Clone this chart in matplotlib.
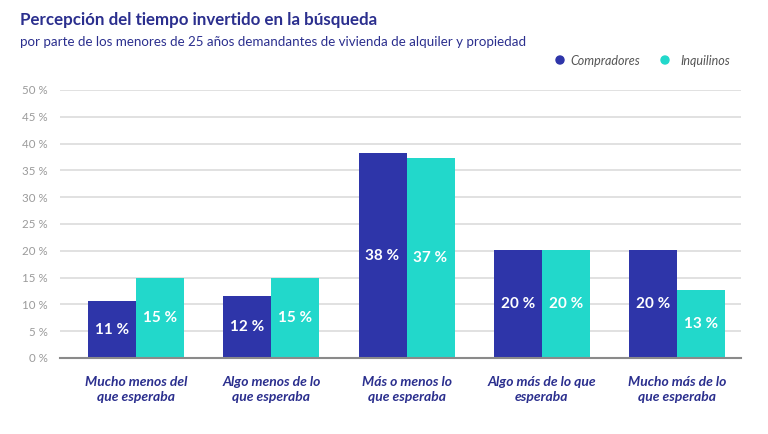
import matplotlib
matplotlib.use("Agg")
import matplotlib.pyplot as plt
import numpy as np

categorias = ["Mucho menos del\nque esperaba", "Algo menos de lo\nque esperaba",
              "Más o menos lo\nque esperaba", "Algo más de lo que\nesperaba",
              "Mucho más de lo\nque esperaba"]
compradores = [10.6, 11.5, 38.2, 20.2, 20.1]
inquilinos = [14.9, 14.9, 37.3, 20.2, 12.6]
etiq_compradores = ["11 %", "12 %", "38 %", "20 %", "20 %"]
etiq_inquilinos = ["15 %", "15 %", "37 %", "20 %", "13 %"]
yticks = list(range(0, 55, 5))

c_comp = "#2e35a9"
c_inq = "#22d8cb"
navy = "#2b2f8e"

plt.rcParams['font.family'] = ['Lato', 'DejaVu Sans']

fig = plt.figure(figsize=(7.68, 4.34), dpi=100)
ax = fig.add_axes([60/768, 1-358/434, (741-60)/768, (358-90)/434])

x = np.arange(len(categorias))
w = 0.355
b1 = ax.bar(x - w/2, compradores, w, color=c_comp, zorder=3)
b2 = ax.bar(x + w/2, inquilinos, w, color=c_inq, zorder=3)

for bars, labs in ((b1, etiq_compradores), (b2, etiq_inquilinos)):
    for r, t in zip(bars, labs):
        ax.text(r.get_x() + r.get_width()/2, r.get_height()/2, t,
                ha='center', va='center', color='white', fontsize=11,
                fontweight='bold', zorder=4)

ax.set_ylim(0, 50)
ax.set_xlim(-0.562, 4.473)
ax.set_yticks(yticks)
ax.set_yticklabels([f"{v} %" for v in yticks], color='#9a9a9a', fontsize=8.3)
ax.yaxis.grid(True, color='#dcdcdc', linewidth=1.2, zorder=0)
ax.set_xticks(x)
ax.set_xticklabels(categorias, fontsize=10, style='italic', fontweight='bold',
                   color=navy, linespacing=1.25)
ax.tick_params(axis='both', length=0)
ax.tick_params(axis='y', pad=9)
ax.tick_params(axis='x', pad=13)
for s in ['top', 'right', 'left']:
    ax.spines[s].set_visible(False)
ax.spines['bottom'].set_color('#8a8a8a')
ax.spines['bottom'].set_linewidth(1.5)
ax.spines['bottom'].set_zorder(5)

fig.text(20/768, 1-20/434, "Percepción del tiempo invertido en la búsqueda",
         fontsize=12.2, fontweight='bold', color=navy, va='center')
fig.text(20/768, 1-42/434,
         "por parte de los menores de 25 años demandantes de vivienda de alquiler y propiedad",
         fontsize=9.6, color=navy, va='center')

# leyenda
fig.patches.append(matplotlib.patches.Ellipse((560/768, 1-60/434), 8/768, 8/434,
                   transform=fig.transFigure, color=c_comp))
fig.text(570/768, 1-61/434, "Compradores", fontsize=9, style='italic',
         color='#555555', va='center')
fig.patches.append(matplotlib.patches.Ellipse((665/768, 1-60/434), 8/768, 8/434,
                   transform=fig.transFigure, color=c_inq))
fig.text(680/768, 1-61/434, "Inquilinos", fontsize=9, style='italic',
         color='#555555', va='center')

fig.savefig("out.png", dpi=100)
